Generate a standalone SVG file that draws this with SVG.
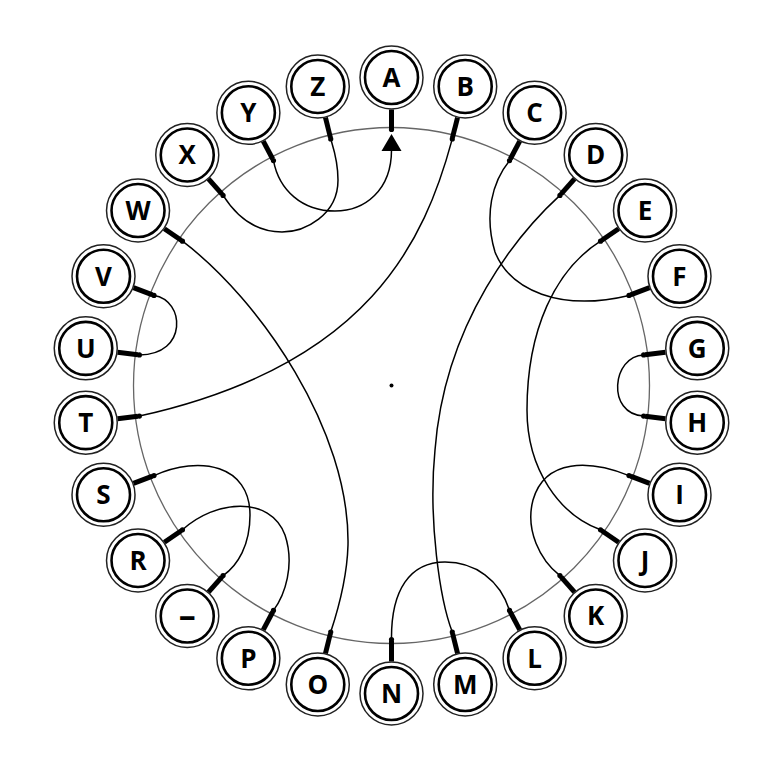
<svg xmlns="http://www.w3.org/2000/svg" width="777" height="773" viewBox="0 0 777 773">
<defs>
<style>
.o{fill:#fff;stroke:#222;stroke-width:1.5}
.i{fill:#fff;stroke:#000;stroke-width:2.6}
.t{font-family:"Open Sans","Liberation Sans",sans-serif;font-weight:700;font-size:26px;text-anchor:middle;fill:#000}
.st{stroke:#000;stroke-width:5;stroke-linecap:butt}
.w{fill:none;stroke:#000;stroke-width:1.5}
.d{fill:#000}
</style>
</defs>
<rect width="777" height="773" fill="#fff"/>
<circle id="ring" cx="391.5" cy="385.5" r="258" fill="none" stroke="#666" stroke-width="1.3"/>
<circle cx="391.5" cy="385.5" r="2" fill="#000"/>
<g id="connectors">
<path class="w" d="M273.5,160.6 C279,190 302,211 335,211 C365,211 391.5,190 391.5,150"/>
<polygon points="391.5,134 381.5,151 401.5,151" fill="#000"/>
<path class="w" d="M223.1,195.4 C240,222 260,232 282,232 C305,232 338,215 338,180 C338,160 333,147 330.7,138.9"/>
<path class="w" d="M452.3,138.9 C425,240 370,365 139.4,416.1"/>
<path class="w" d="M509.5,160.6 C492,182 484,215 495,252 C510,290 560,312 629,295.4"/>
<path class="w" d="M559.9,195.4 C520,232 445,320 435,450 C428,520 440,600 452.3,632.1"/>
<path class="w" d="M600.5,241.2 C555,270 527,330 527,410 C527,470 560,515 600.5,529.8"/>
<path class="w" d="M629,475.6 C590,460 545,458 533,500 C525,530 540,560 559.9,575.6"/>
<path class="w" d="M643.6,354.9 C612,356 606,414 643.6,416.1"/>
<path class="w" d="M154,295.4 C185,300 188,355 139.4,354.9"/>
<path class="w" d="M182.5,241.2 C260,300 350,430 348,545 C347,580 338,610 330.7,632.1"/>
<path class="w" d="M154,475.6 C200,455 250,465 250,515 C250,545 238,565 223.1,575.6"/>
<path class="w" d="M182.5,529.8 C215,500 270,495 285,535 C295,565 285,595 273.5,610.4"/>
<path class="w" d="M391.5,639.5 C391,590 410,562 445,562 C475,562 500,580 509.5,610.4"/>
</g>
<g id="node-A"><line class="st" x1="391.5" y1="109.5" x2="391.5" y2="129"/><circle class="d" cx="391.5" cy="129.5" r="2.6"/><circle class="o" cx="391.5" cy="77.5" r="31.5"/><circle class="i" cx="391.5" cy="77.5" r="26.5"/><text class="t" x="391.5" y="86.8">A</text></g>
<g id="node-B"><line class="st" x1="457.55" y1="117.52" x2="452.5" y2="137.5"/><circle class="d" cx="452.29" cy="138.88" r="2.6"/><circle class="o" cx="465.21" cy="86.45" r="31.5"/><circle class="i" cx="465.21" cy="86.45" r="26.5"/><text class="t" x="465.21" y="95.8">B</text></g>
<g id="node-C"><line class="st" x1="519.76" y1="141.11" x2="510.3" y2="159"/><circle class="d" cx="509.54" cy="160.59" r="2.6"/><circle class="o" cx="534.63" cy="112.78" r="31.5"/><circle class="i" cx="534.63" cy="112.78" r="26.5"/><text class="t" x="534.63" y="122.1">C</text></g>
<g id="node-D"><line class="st" x1="574.52" y1="178.91" x2="561" y2="194.2"/><circle class="d" cx="559.93" cy="195.38" r="2.6"/><circle class="o" cx="595.74" cy="154.96" r="31.5"/><circle class="i" cx="595.74" cy="154.96" r="26.5"/><text class="t" x="595.74" y="164.3">D</text></g>
<g id="node-E"><line class="st" x1="618.64" y1="228.72" x2="601.8" y2="240.3"/><circle class="d" cx="600.54" cy="241.21" r="2.6"/><circle class="o" cx="644.98" cy="210.54" r="31.5"/><circle class="i" cx="644.98" cy="210.54" r="26.5"/><text class="t" x="644.98" y="219.8">E</text></g>
<g id="node-F"><line class="st" x1="649.57" y1="287.63" x2="630.5" y2="294.8"/><circle class="d" cx="628.99" cy="295.43" r="2.6"/><circle class="o" cx="679.49" cy="276.28" r="31.5"/><circle class="i" cx="679.49" cy="276.28" r="26.5"/><text class="t" x="679.49" y="285.6">F</text></g>
<g id="node-G"><line class="st" x1="665.49" y1="352.23" x2="645.2" y2="354.7"/><circle class="d" cx="643.65" cy="354.88" r="2.6"/><circle class="o" cx="697.25" cy="348.37" r="31.5"/><circle class="i" cx="697.25" cy="348.37" r="26.5"/><text class="t" x="697.25" y="357.7">G</text></g>
<g id="node-H"><line class="st" x1="665.49" y1="418.77" x2="645.2" y2="416.3"/><circle class="d" cx="643.65" cy="416.12" r="2.6"/><circle class="o" cx="697.25" cy="422.63" r="31.5"/><circle class="i" cx="697.25" cy="422.63" r="26.5"/><text class="t" x="697.25" y="431.9">H</text></g>
<g id="node-I"><line class="st" x1="649.57" y1="483.37" x2="630.5" y2="476.2"/><circle class="d" cx="628.99" cy="475.57" r="2.6"/><circle class="o" cx="679.49" cy="494.72" r="31.5"/><circle class="i" cx="679.49" cy="494.72" r="26.5"/><text class="t" x="679.49" y="504">I</text></g>
<g id="node-J"><line class="st" x1="618.64" y1="542.28" x2="601.8" y2="530.7"/><circle class="d" cx="600.54" cy="529.79" r="2.6"/><circle class="o" cx="644.98" cy="560.46" r="31.5"/><circle class="i" cx="644.98" cy="560.46" r="26.5"/><text class="t" x="644.98" y="569.8">J</text></g>
<g id="node-K"><line class="st" x1="574.52" y1="592.09" x2="561" y2="576.8"/><circle class="d" cx="559.93" cy="575.62" r="2.6"/><circle class="o" cx="595.74" cy="616.04" r="31.5"/><circle class="i" cx="595.74" cy="616.04" r="26.5"/><text class="t" x="595.74" y="625.3">K</text></g>
<g id="node-L"><line class="st" x1="519.76" y1="629.89" x2="510.3" y2="612"/><circle class="d" cx="509.54" cy="610.41" r="2.6"/><circle class="o" cx="534.63" cy="658.22" r="31.5"/><circle class="i" cx="534.63" cy="658.22" r="26.5"/><text class="t" x="534.63" y="667.5">L</text></g>
<g id="node-M"><line class="st" x1="457.55" y1="653.48" x2="452.6" y2="633.5"/><circle class="d" cx="452.29" cy="632.12" r="2.6"/><circle class="o" cx="465.21" cy="684.55" r="31.5"/><circle class="i" cx="465.21" cy="684.55" r="26.5"/><text class="t" x="465.21" y="693.8">M</text></g>
<g id="node-N"><line class="st" x1="391.5" y1="661.5" x2="391.5" y2="641"/><circle class="d" cx="391.5" cy="639.5" r="2.6"/><circle class="o" cx="391.5" cy="693.5" r="31.5"/><circle class="i" cx="391.5" cy="693.5" r="26.5"/><text class="t" x="391.5" y="702.8">N</text></g>
<g id="node-O"><line class="st" x1="325.45" y1="653.48" x2="330.4" y2="633.5"/><circle class="d" cx="330.71" cy="632.12" r="2.6"/><circle class="o" cx="317.79" cy="684.55" r="31.5"/><circle class="i" cx="317.79" cy="684.55" r="26.5"/><text class="t" x="317.79" y="693.8">O</text></g>
<g id="node-P"><line class="st" x1="263.24" y1="629.89" x2="272.7" y2="612"/><circle class="d" cx="273.46" cy="610.41" r="2.6"/><circle class="o" cx="248.37" cy="658.22" r="31.5"/><circle class="i" cx="248.37" cy="658.22" r="26.5"/><text class="t" x="248.37" y="667.5">P</text></g>
<g id="node-dash"><line class="st" x1="208.48" y1="592.09" x2="222" y2="576.8"/><circle class="d" cx="223.07" cy="575.62" r="2.6"/><circle class="o" cx="187.26" cy="616.04" r="31.5"/><circle class="i" cx="187.26" cy="616.04" r="26.5"/><text class="t" x="187.26" y="627" style="font-size:34px">–</text></g>
<g id="node-R"><line class="st" x1="164.36" y1="542.28" x2="181.2" y2="530.7"/><circle class="d" cx="182.46" cy="529.79" r="2.6"/><circle class="o" cx="138.02" cy="560.46" r="31.5"/><circle class="i" cx="138.02" cy="560.46" r="26.5"/><text class="t" x="138.02" y="569.8">R</text></g>
<g id="node-S"><line class="st" x1="133.43" y1="483.37" x2="152.5" y2="476.2"/><circle class="d" cx="154.01" cy="475.57" r="2.6"/><circle class="o" cx="103.51" cy="494.72" r="31.5"/><circle class="i" cx="103.51" cy="494.72" r="26.5"/><text class="t" x="103.51" y="504">S</text></g>
<g id="node-T"><line class="st" x1="117.51" y1="418.77" x2="137.8" y2="416.3"/><circle class="d" cx="139.35" cy="416.12" r="2.6"/><circle class="o" cx="85.75" cy="422.63" r="31.5"/><circle class="i" cx="85.75" cy="422.63" r="26.5"/><text class="t" x="85.75" y="431.9">T</text></g>
<g id="node-U"><line class="st" x1="117.51" y1="352.23" x2="137.8" y2="354.7"/><circle class="d" cx="139.35" cy="354.88" r="2.6"/><circle class="o" cx="85.75" cy="348.37" r="31.5"/><circle class="i" cx="85.75" cy="348.37" r="26.5"/><text class="t" x="85.75" y="357.7">U</text></g>
<g id="node-V"><line class="st" x1="133.43" y1="287.63" x2="152.5" y2="294.8"/><circle class="d" cx="154.01" cy="295.43" r="2.6"/><circle class="o" cx="103.51" cy="276.28" r="31.5"/><circle class="i" cx="103.51" cy="276.28" r="26.5"/><text class="t" x="103.51" y="285.6">V</text></g>
<g id="node-W"><line class="st" x1="164.36" y1="228.72" x2="181.2" y2="240.3"/><circle class="d" cx="182.46" cy="241.21" r="2.6"/><circle class="o" cx="138.02" cy="210.54" r="31.5"/><circle class="i" cx="138.02" cy="210.54" r="26.5"/><text class="t" x="138.02" y="219.8">W</text></g>
<g id="node-X"><line class="st" x1="208.48" y1="178.91" x2="222" y2="194.2"/><circle class="d" cx="223.07" cy="195.38" r="2.6"/><circle class="o" cx="187.26" cy="154.96" r="31.5"/><circle class="i" cx="187.26" cy="154.96" r="26.5"/><text class="t" x="187.26" y="164.3">X</text></g>
<g id="node-Y"><line class="st" x1="263.24" y1="141.11" x2="272.7" y2="159"/><circle class="d" cx="273.46" cy="160.59" r="2.6"/><circle class="o" cx="248.37" cy="112.78" r="31.5"/><circle class="i" cx="248.37" cy="112.78" r="26.5"/><text class="t" x="248.37" y="122.1">Y</text></g>
<g id="node-Z"><line class="st" x1="325.45" y1="117.52" x2="330.4" y2="137.5"/><circle class="d" cx="330.71" cy="138.88" r="2.6"/><circle class="o" cx="317.79" cy="86.45" r="31.5"/><circle class="i" cx="317.79" cy="86.45" r="26.5"/><text class="t" x="317.79" y="95.8">Z</text></g>
</svg>
